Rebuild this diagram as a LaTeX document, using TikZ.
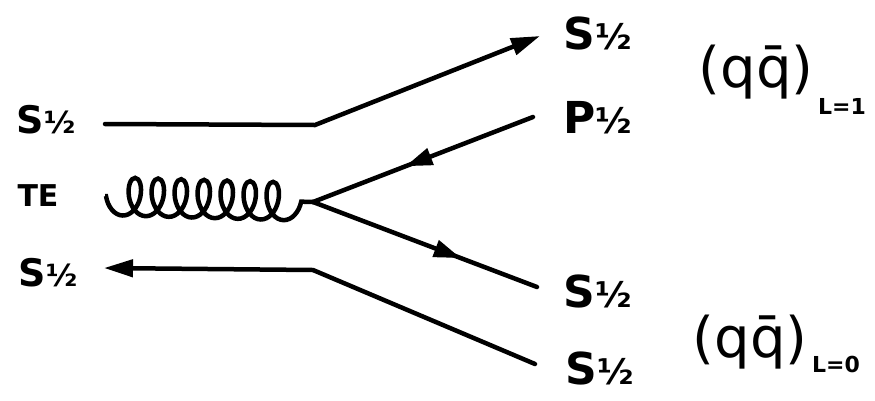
\documentclass[tikz,border=0pt]{standalone}
\usepackage{fontspec}
\setmainfont{DejaVu Sans}
\usetikzlibrary{arrows.meta,decorations.pathmorphing,decorations.markings}
\tikzset{
  fermion/.style={line width=4.5pt, line cap=round},
  tip/.style={-{Triangle[length=29pt,width=17pt]}},
  midarrow/.style={postaction={decorate},decoration={markings,
     mark=at position #1 with {\arrow{Triangle[length=27pt,width=17pt]}}}},
  gluon/.style={line width=4.5pt, decorate, decoration={coil, mirror, amplitude=19pt,
     segment length=23pt, aspect=0.6, pre length=1pt, post length=1pt}},
  lab/.style={inner sep=0pt, font=\fontsize{38}{40}\selectfont\bfseries},
  rlab/.style={inner sep=0pt, font=\fontsize{44}{46}\selectfont\bfseries},
  qq/.style={inner sep=0pt, font=\fontsize{56}{58}\selectfont},
  sub/.style={inner sep=0pt, font=\fontsize{22}{24}\selectfont\bfseries},
}
\newcommand{\hf}{{\fontsize{0.8em}{1em}\selectfont ½}}
\begin{document}
\begin{tikzpicture}[x=1pt,y=-1pt]
\useasboundingbox (0,0) rectangle (875,400);
% left labels
\node[lab] (l1) at (46,120) {S\hf};
\node[inner sep=0pt, font=\fontsize{30}{32}\selectfont\bfseries] (te) at (38,196) {TE};
\node[lab] (l3) at (48,273) {S\hf};
% right labels
\node[rlab] (r1) at (598,33) {S\hf};
\node[rlab] (r2) at (598,118) {P\hf};
\node[rlab] (r3) at (598,291) {S\hf};
\node[rlab] (r4) at (600,368) {S\hf};
\node[qq] (qa) at (756,72) {(q\={q})};
\node[sub, anchor=west] (sa) at (818,106) {L=1};
\node[qq] (qb) at (750,342) {(q\={q})};
\node[sub, anchor=west] (sb) at (812,364) {L=0};
% points
\coordinate (a1) at (105,124);
\coordinate (k1) at (315,125);
\coordinate (e1) at (540,36);
\coordinate (e2) at (533,117);
\coordinate (v) at (313,202);
\coordinate (e3) at (537,287);
\coordinate (a3) at (104,268);
\coordinate (k3) at (313,270);
\coordinate (e4) at (535,364);
\coordinate (g0) at (105,196);
% lines
\draw[fermion,tip] (a1) -- (k1) -- (e1);
\draw[fermion,midarrow=0.58] (e2) -- (v);
\draw[fermion,midarrow=0.66] (v) -- (e3);
\draw[fermion,tip] (e4) -- (k3) -- (a3);
\draw[gluon] (g0) -- (v);
\end{tikzpicture}
\end{document}
